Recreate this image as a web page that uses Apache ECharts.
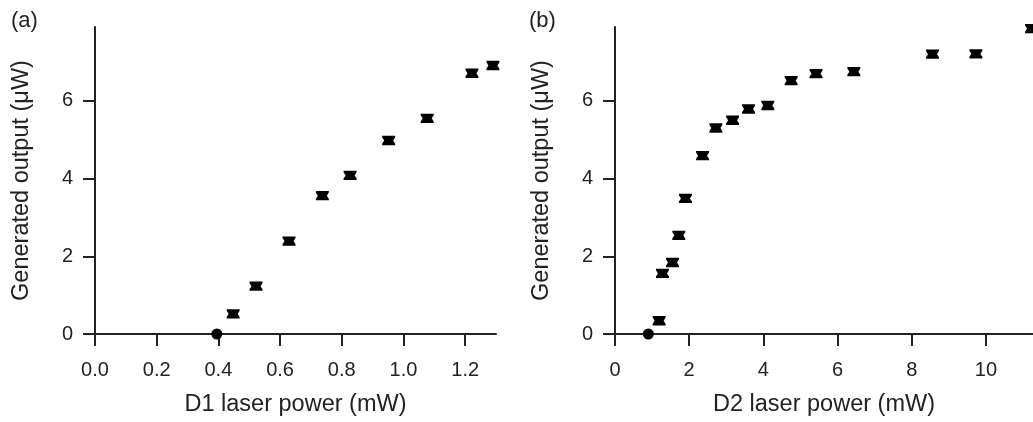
<!DOCTYPE html>
<html>
<head>
<meta charset="UTF-8">
<title>Generated output vs laser power</title>
<script src="https://cdn.jsdelivr.net/npm/echarts@6/dist/echarts.min.js"></script>
<style>
  html, body { margin: 0; padding: 0; background: #fff; }
  #chart { width: 1033px; height: 422px; }
</style>
</head>
<body>
<div id="chart"></div>
<script>
// panel (a): D1 laser power (mW) vs generated output (uW)
var d1Power  = [0.395, 0.448, 0.522, 0.629, 0.737, 0.827, 0.952, 1.077, 1.222, 1.29];
var d1Output = [0, 0.52, 1.23, 2.39, 3.56, 4.08, 4.98, 5.55, 6.71, 6.91];
var d1Err    = [0, 0.12, 0.12, 0.12, 0.12, 0.12, 0.12, 0.12, 0.12, 0.12];

// panel (b): D2 laser power (mW) vs generated output (uW)
var d2Power  = [0.90, 1.19, 1.28, 1.55, 1.72, 1.90, 2.36, 2.72, 3.17, 3.60, 4.12, 4.75, 5.42, 6.44, 8.56, 9.73, 11.23];
var d2Output = [0, 0.34, 1.56, 1.84, 2.54, 3.49, 4.59, 5.30, 5.50, 5.79, 5.88, 6.52, 6.70, 6.75, 7.20, 7.21, 7.86];
var d2Err    = [0, 0.12, 0.12, 0.12, 0.12, 0.12, 0.12, 0.12, 0.12, 0.12, 0.12, 0.12, 0.12, 0.12, 0.12, 0.12, 0.12];

// tick labels
var d1Ticks = [0, 0.2, 0.4, 0.6, 0.8, 1.0, 1.2];
var d2Ticks = [0, 2, 4, 6, 8, 10];
var yTicks  = [0, 2, 4, 6];

var font = '"Liberation Sans", Arial, Helvetica, sans-serif';
var ink = '#222';

function toData(xs, ys, es) {
    var out = [];
    for (var i = 0; i < xs.length; i++) out.push([xs[i], ys[i], es[i]]);
    return out;
}

// point with small error bar, drawn as an hourglass-like block
function renderPoint(params, api) {
    var x = api.value(0), y = api.value(1), e = api.value(2);
    var c = api.coord([x, y]);
    if (!e) {
        return { type: 'circle', shape: { cx: c[0], cy: c[1], r: 5.5 }, style: { fill: '#000' } };
    }
    var top = api.coord([x, y + e])[1];
    var bot = api.coord([x, y - e])[1];
    var w = 6.5, n = 4.5;
    return {
        type: 'polygon',
        shape: { points: [
            [c[0] - w, top], [c[0] + w, top], [c[0] + w, top + 1.5], [c[0] + n, c[1]],
            [c[0] + w, bot - 1.5], [c[0] + w, bot], [c[0] - w, bot], [c[0] - w, bot - 1.5],
            [c[0] - n, c[1]], [c[0] - w, top + 1.5]
        ] },
        style: { fill: '#000' }
    };
}

function xAxisOf(idx, max, ticks, name, fmt) {
    return {
        type: 'value', gridIndex: idx, min: 0, max: max,
        name: name, nameLocation: 'middle', nameGap: 59,
        nameTextStyle: { fontFamily: font, fontSize: 23.5, color: ink },
        axisLine: { show: true, onZero: false, lineStyle: { color: ink, width: 2 } },
        axisTick: { show: true, length: 12, customValues: ticks, lineStyle: { color: ink, width: 2 } },
        axisLabel: { customValues: ticks, margin: 26, fontFamily: font, fontSize: 20, color: ink, formatter: fmt },
        splitLine: { show: false }
    };
}

function yAxisOf(idx) {
    return {
        type: 'value', gridIndex: idx, min: 0, max: 7.9,
        name: 'Generated output (μW)', nameLocation: 'middle', nameGap: 61,
        nameTextStyle: { fontFamily: font, fontSize: 23.5, color: ink },
        axisLine: { show: true, lineStyle: { color: ink, width: 2 } },
        axisTick: { show: true, length: 12, customValues: yTicks, lineStyle: { color: ink, width: 2 } },
        axisLabel: { customValues: yTicks, margin: 22, fontFamily: font, fontSize: 20, color: ink },
        splitLine: { show: false }
    };
}

var chart = echarts.init(document.getElementById('chart'));
var option = {
    backgroundColor: '#fff',
    animation: false,
    grid: [
        { left: 95, top: 27, width: 401, height: 308 },
        { left: 615, top: 27, width: 418, height: 308 }
    ],
    graphic: [
        { type: 'text', left: 11, top: 10, style: { text: '(a)', fontFamily: font, fontSize: 22, fill: ink } },
        { type: 'text', left: 529, top: 10, style: { text: '(b)', fontFamily: font, fontSize: 22, fill: ink } }
    ],
    xAxis: [
        xAxisOf(0, 1.3, d1Ticks, 'D1 laser power (mW)', function (v) { return v.toFixed(1); }),
        xAxisOf(1, 11.27, d2Ticks, 'D2 laser power (mW)', function (v) { return String(v); })
    ],
    yAxis: [yAxisOf(0), yAxisOf(1)],
    series: [
        { type: 'custom', xAxisIndex: 0, yAxisIndex: 0, renderItem: renderPoint, data: toData(d1Power, d1Output, d1Err), clip: false },
        { type: 'custom', xAxisIndex: 1, yAxisIndex: 1, renderItem: renderPoint, data: toData(d2Power, d2Output, d2Err), clip: false }
    ]
};
chart.setOption(option);
</script>
</body>
</html>
